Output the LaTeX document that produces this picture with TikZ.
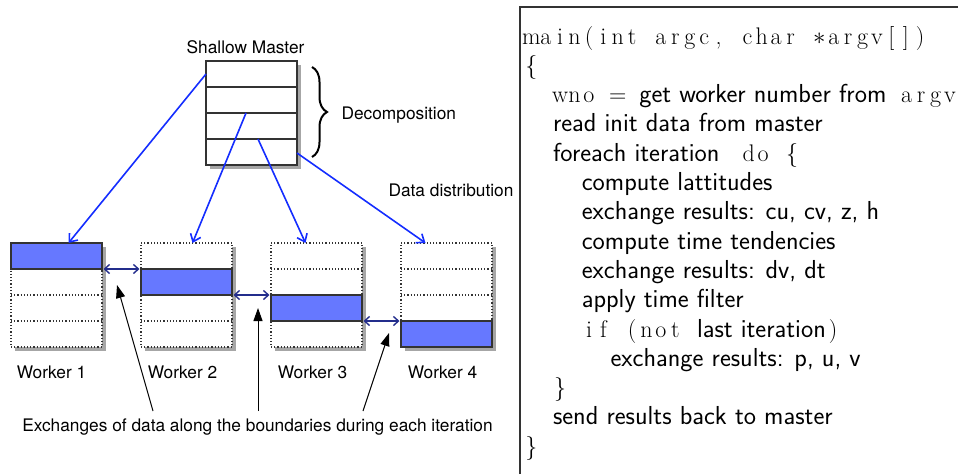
\documentclass[tikz,border=0pt]{standalone}
\usepackage{fontspec}
\usepackage{tikz}
\usetikzlibrary{positioning, arrows.meta, shadows, decorations.pathreplacing, calc}
\newfontfamily\helv{TeX Gyre Heros}
\definecolor{slab}{RGB}{102,120,255}
\definecolor{feed}{RGB}{20,45,255}
\definecolor{swap}{RGB}{35,45,140}
\definecolor{rim}{HTML}{333333}
% fixed-width columns for the listing
\newcommand\cols[1]{\colsloop#1\relax}
\def\colsloop#1{\ifx\relax#1\else\makebox[0.6em]{#1}\expandafter\colsloop\fi}
\newcommand\prose[1]{{\sffamily\fontsize{26pt}{29pt}\selectfont #1}}

\begin{document}
\begin{tikzpicture}[x=1pt, y=-1pt, font=\helv\fontsize{17.3pt}{20pt}\selectfont,
  shade/.style={drop shadow={shadow xshift=4pt, shadow yshift=-4pt, fill=black, opacity=.35}},
  master/.style={draw=rim, line width=1.3pt, fill=white, minimum width=91pt,
                 minimum height=104pt, inner sep=0pt, outer sep=0pt, shade},
  tray/.style={draw=rim, line width=1.2pt, dotted, fill=white, minimum width=91pt,
               minimum height=104pt, inner sep=0pt, outer sep=0pt, shade},
  slabbox/.style={draw=rim, line width=1.3pt, fill=slab, minimum width=91pt,
                  minimum height=26pt, inner sep=0pt, outer sep=0pt, anchor=north west},
  feedarrow/.style={draw=feed, line width=1.6pt, -{Straight Barb[length=7pt,width=11pt]}},
  swaparrow/.style={draw=swap, line width=1.4pt,
                    {Straight Barb[length=5pt,width=9pt]}-{Straight Barb[length=5pt,width=9pt]},
                    shorten <=1.5pt, shorten >=1.5pt},
  pointer/.style={draw=black, line width=1pt, -{Triangle[length=13pt,width=9pt]}},
  code/.style={anchor=base west, inner sep=0pt, font=\rmfamily\fontsize{24pt}{29pt}\selectfont}]
  \useasboundingbox (0,0) rectangle (958,474);

  % master and its decomposition
  \node[master] (M) at (251.5,113) {};
  \foreach \k in {1,2,3}
    \draw[rim, line width=1.3pt] ($(M.north west)+(0,26*\k)$) -- ($(M.north east)+(0,26*\k)$);
  \node[anchor=base] (title) at (245.5,53) {Shallow Master};
  \draw[decorate, decoration={brace, amplitude=15pt}, line width=2pt]
    ($(M.north east)+(15,6)$) -- ($(M.south east)+(15,-8)$);
  \node[anchor=base west] (decomp) at (338,119) {Decomposition};
  \node[anchor=base west] (dist) at (385,196) {Data distribution};

  % workers
  \node[tray] (w1) at (56.5,295) {};
  \node[tray, right=39pt of w1] (w2) {};
  \node[tray, right=39pt of w2] (w3) {};
  \node[tray, right=39pt of w3] (w4) {};
  \foreach \w in {w1,w2,w3,w4}
    \foreach \k in {1,2,3}
      \draw[rim, line width=1.2pt, dotted] ($(\w.north west)+(0,26*\k)$) -- ($(\w.north east)+(0,26*\k)$);
  \node[slabbox] (h1) at (w1.north west) {};
  \node[slabbox] (h2) at ($(w2.north west)+(0,26)$) {};
  \node[slabbox] (h3) at ($(w3.north west)+(0,52)$) {};
  \node[slabbox] (h4) at ($(w4.north west)+(0,78)$) {};
  \foreach \i/\x in {1/51.5,2/182.5,3/312.5,4/442.5}
    \node[anchor=base] (lab\i) at (\x,378) {Worker \i};

  % data distribution
  \coordinate (f1) at ($(M.north west)+(0,13)$);
  \coordinate (f2) at ($(M.north west)+(40,52)$);
  \coordinate (f3) at ($(M.north west)+(52,78)$);
  \coordinate (f4) at ($(M.south east)+(0,-12)$);
  \draw[feedarrow] (f1) -- ($(w1.north)+(12,0)$);
  \draw[feedarrow] (f2) -- ($(w2.north)+(6,0)$);
  \draw[feedarrow] (f3) -- ($(w3.north)+(-11,0)$);
  \draw[feedarrow] (f4) -- ($(w4.north)+(-21,0)$);

  % boundary exchanges
  \draw[swaparrow] (h1.south east) -- (h2.north west);
  \draw[swaparrow] (h2.south east) -- (h3.north west);
  \draw[swaparrow] (h3.south east) -- (h4.north west);

  \node[anchor=base] (note) at (257.5,431) {Exchanges of data along the boundaries during each iteration};
  \coordinate (p1) at (153,411);
  \coordinate (p2) at (258,411);
  \coordinate (p3) at (363,411);
  \coordinate (g1) at (117,285);
  \coordinate (g2) at (258,308);
  \coordinate (g3) at (389,333);
  \draw[pointer] (p1) -- (g1);
  \draw[pointer] (p2) -- (g2);
  \draw[pointer] (p3) -- (g3);

  % worker program
  \draw[rim, line width=1.2pt] (520,474) -- (520,7) -- (958,7);
  \node[code] (c1)  at (524,44)      {\cols{main(int~argc,~char~{$\ast$}argv[])}};
  \node[code] (c2)  at (524,73.3)    {\cols{\{}};
  \node[code] (c3)  at (552.8,102.6) {\cols{wno~=~}\prose{get worker number from }\hspace{5pt}\cols{argv}};
  \node[code] (c4)  at (552.8,131.9) {\prose{read init data from master}};
  \node[code] (c5)  at (552.8,161.2) {\prose{foreach iteration }\hspace{14pt}\cols{do~\{}};
  \node[code] (c6)  at (581.6,190.5) {\prose{compute lattitudes}};
  \node[code] (c7)  at (581.6,219.8) {\prose{exchange results: cu, cv, z, h}};
  \node[code] (c8)  at (581.6,249.1) {\prose{compute time tendencies}};
  \node[code] (c9)  at (581.6,278.4) {\prose{exchange results: dv, dt}};
  \node[code] (c10) at (581.6,307.7) {\prose{apply time filter}};
  \node[code] (c11) at (581.6,337)   {\cols{if~(not~}\prose{last iteration}\cols{)}};
  \node[code] (c12) at (610.4,366.3) {\prose{exchange results: p, u, v}};
  \node[code] (c13) at (552.8,395.6) {\cols{\}}};
  \node[code] (c14) at (552.8,424.9) {\prose{send results back to master}};
  \node[code] (c15) at (524,454.2)   {\cols{\}}};
\end{tikzpicture}
\end{document}
